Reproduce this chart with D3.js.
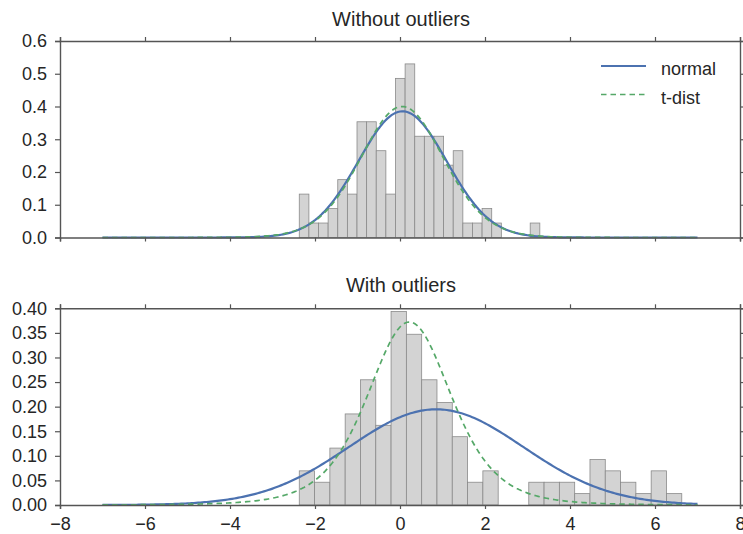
<!DOCTYPE html>
<html>
<head>
<meta charset="utf-8">
<script src="https://cdn.jsdelivr.net/npm/d3@7"></script>
<style>
  body { margin: 0; background: #fff; }
  svg text { font-family: "Liberation Sans", Arial, sans-serif; fill: #262626; }
  .axis path, .axis line { stroke: #555; }
</style>
</head>
<body>
<svg id="chart" width="743" height="534"></svg>
<script>
// histogram counts (25 bins each)
const topCounts = [3,1,1,2,4,3,8,8,6,3,11,12,7,7,7,5,6,1,1,2,1,0,0,0,1];
const topBinStart = -2.37;
const topBinWidth = 0.2264;
const topN = 100;

const botCounts = [3,2,5,8,11,7,17,15,11,9,6,2,3,0,0,2,2,2,1,4,3,2,1,3,1];
const botBinStart = -2.37;
const botBinWidth = 0.36;
const botN = 120;

// fitted distribution parameters
const topNormal = {mu: 0.06, sd: 1.035};
const topT = {df: 20, loc: 0.05, scale: 0.985};
const botNormal = {mu: 0.85, sd: 2.05};
const botT = {df: 5, loc: 0.22, scale: 1.02};

const curveRange = [-7, 7];
const xTicks = [-8, -6, -4, -2, 0, 2, 4, 6, 8];
const topYTicks = [0.0, 0.1, 0.2, 0.3, 0.4, 0.5, 0.6];
const botYTicks = [0.00, 0.05, 0.10, 0.15, 0.20, 0.25, 0.30, 0.35, 0.40];

const blue = "#4c72b0";
const green = "#55a868";

const svg = d3.select("#chart");
const left = 60, right = 740;

const x = d3.scaleLinear().domain([-8, 8]).range([left, right]);

// log gamma (Lanczos)
function lgamma(z) {
    const g = 7;
    const c = [0.99999999999980993, 676.5203681218851, -1259.1392167224028,
        771.32342877765313, -176.61502916214059, 12.507343278686905,
        -0.13857109526572012, 9.9843695780195716e-6, 1.5056327351493116e-7];
    z -= 1;
    let a = c[0];
    const t = z + g + 0.5;
    for (let i = 1; i < g + 2; i++) a += c[i] / (z + i);
    return 0.5 * Math.log(2 * Math.PI) + (z + 0.5) * Math.log(t) - t + Math.log(a);
}
function normPdf(v, p) {
    const z = (v - p.mu) / p.sd;
    return Math.exp(-0.5 * z * z) / (p.sd * Math.sqrt(2 * Math.PI));
}
function tPdf(v, p) {
    const z = (v - p.loc) / p.scale;
    const nu = p.df;
    const logc = lgamma((nu + 1) / 2) - lgamma(nu / 2) - 0.5 * Math.log(nu * Math.PI);
    return Math.exp(logc - (nu + 1) / 2 * Math.log(1 + z * z / nu)) / p.scale;
}

const xs = d3.range(curveRange[0], curveRange[1] + 0.001, 0.05);

function drawPanel(opts) {
    const y = d3.scaleLinear().domain(opts.yDomain).range([opts.bottom, opts.top]);
    const g = svg.append("g");

    // bars
    const bins = opts.counts.map((c, i) => ({
        x0: opts.binStart + i * opts.binWidth,
        x1: opts.binStart + (i + 1) * opts.binWidth,
        d: c / (opts.n * opts.binWidth)
    })).filter(b => b.d > 0);

    g.selectAll("rect.bar")
        .data(bins)
        .join("rect")
        .attr("class", "bar")
        .attr("x", b => x(b.x0))
        .attr("y", b => y(b.d))
        .attr("width", b => x(b.x1) - x(b.x0))
        .attr("height", b => y(0) - y(b.d))
        .attr("fill", "#d3d3d3")
        .attr("stroke", "#8a8a8a")
        .attr("stroke-width", 0.8);

    const line = d3.line().x(d => x(d[0])).y(d => y(d[1]));

    g.append("path")
        .datum(xs.map(v => [v, normPdf(v, opts.normal)]))
        .attr("d", line)
        .attr("fill", "none")
        .attr("stroke", blue)
        .attr("stroke-width", 2.2);

    g.append("path")
        .datum(xs.map(v => [v, tPdf(v, opts.t)]))
        .attr("d", line)
        .attr("fill", "none")
        .attr("stroke", green)
        .attr("stroke-width", 1.7)
        .attr("stroke-dasharray", "5.5,4");

    // axes on all four sides, ticks outward
    g.append("g").attr("class", "axis")
        .attr("transform", `translate(${left},0)`)
        .call(d3.axisLeft(y).tickValues(opts.yTicks).tickFormat(opts.yFormat).tickSize(5).tickPadding(8))
        .call(a => a.selectAll("text").style("font-size", "18px"));
    g.append("g").attr("class", "axis")
        .attr("transform", `translate(${right},0)`)
        .call(d3.axisRight(y).tickValues(opts.yTicks).tickFormat("").tickSize(4));
    g.append("g").attr("class", "axis")
        .attr("transform", `translate(0,${opts.top})`)
        .call(d3.axisTop(x).tickValues(xTicks).tickFormat("").tickSize(4));
    g.append("g").attr("class", "axis")
        .attr("transform", `translate(0,${opts.bottom})`)
        .call(d3.axisBottom(x).tickValues(xTicks).tickSize(4).tickPadding(8)
            .tickFormat(opts.showX ? (d => d < 0 ? "\u2212" + Math.abs(d) : d) : ""))
        .call(a => a.selectAll("text").style("font-size", "18px"));
    g.selectAll(".axis .domain").attr("stroke-width", 1.4);
    g.selectAll(".axis .tick line").attr("stroke-width", 1.2);

    g.append("text")
        .attr("x", (left + right) / 2 + 1)
        .attr("y", opts.titleY)
        .attr("text-anchor", "middle")
        .style("font-size", "20px")
        .text(opts.title);
}

drawPanel({
    title: "Without outliers", titleY: 26,
    top: 41, bottom: 237.5,
    yDomain: [0, 0.6], yTicks: topYTicks, yFormat: d3.format(".1f"),
    counts: topCounts, binStart: topBinStart, binWidth: topBinWidth, n: topN,
    normal: topNormal, t: topT, showX: false
});

drawPanel({
    title: "With outliers", titleY: 291.5,
    top: 308.3, bottom: 505,
    yDomain: [0, 0.4], yTicks: botYTicks, yFormat: d3.format(".2f"),
    counts: botCounts, binStart: botBinStart, binWidth: botBinWidth, n: botN,
    normal: botNormal, t: botT, showX: true
});

// legend
const legendItems = [
    {label: "normal", color: blue, dash: null, width: 2.2},
    {label: "t-dist", color: green, dash: "5.5,4", width: 1.7}
];
const legend = svg.append("g").attr("transform", "translate(601,66)");
legendItems.forEach((it, i) => {
    const row = legend.append("g").attr("transform", `translate(0,${i * 28.5})`);
    row.append("line")
        .attr("x1", 0).attr("x2", 45)
        .attr("stroke", it.color)
        .attr("stroke-width", it.width)
        .attr("stroke-dasharray", it.dash);
    row.append("text")
        .attr("x", 60).attr("y", 9)
        .style("font-size", "18px")
        .text(it.label);
});
</script>
</body>
</html>
